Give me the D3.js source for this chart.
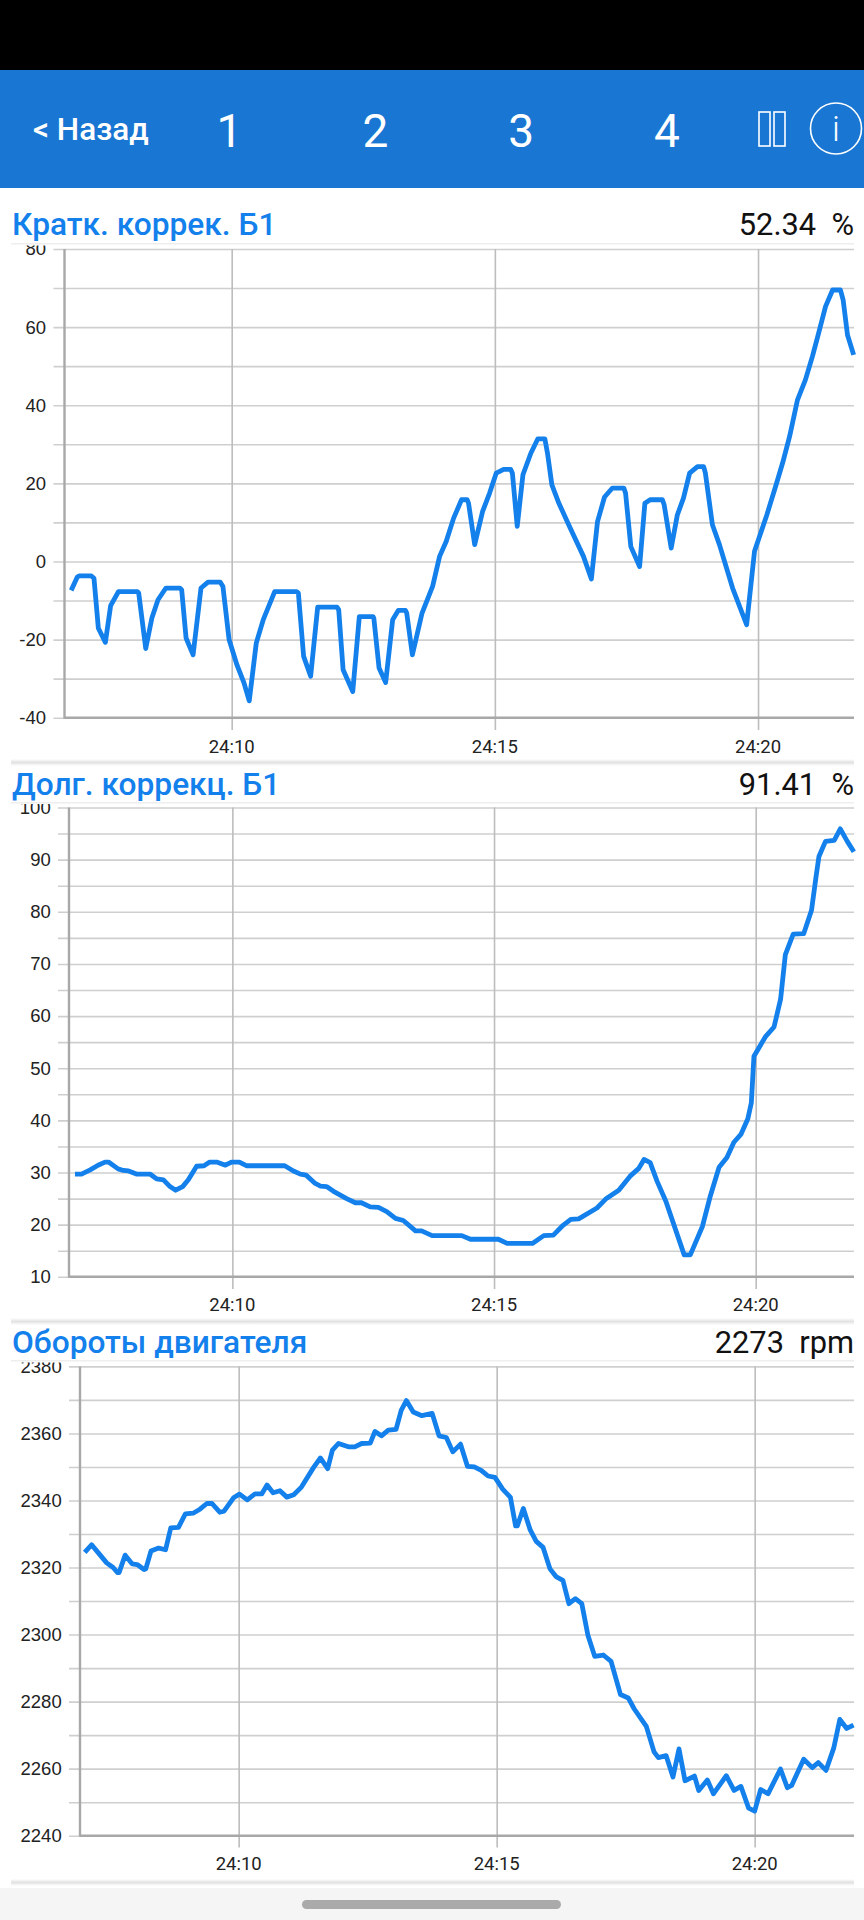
<!DOCTYPE html>
<html>
<head>
<meta charset="utf-8">
<script src="https://cdn.jsdelivr.net/npm/d3@7"></script>
<style>
  html, body { margin: 0; padding: 0; background: #fff; }
  svg { display: block; font-family: Roboto, sans-serif; }
  .grid-y line { stroke: #cfcfcf; stroke-width: 1.6; }
  .grid-x line { stroke: #bdbdbd; stroke-width: 1.6; }
  .axis-label text { font-size: 18.5px; fill: #222; }
  .trace { fill: none; stroke: #1380ec; stroke-width: 4.8; stroke-linejoin: round; }
</style>
</head>
<body>
<svg width="864" height="1920"></svg>
<script>
// seconds after 24:00 on the time axis
const timeTicks = [600, 900, 1200];
const timeLabels = ["24:10", "24:15", "24:20"];
const navLabels = ["1", "2", "3", "4"];

const shortTrimTimes = [417,424,426,440,443,448,456,462,471,492.5,494,502,509,516,525,541,543,548,556,565,573,587,590,597,606,614,620,628,636,649,674,676,682,690,698,720,722,727,738,745.5,761,762,768,775.5,783.5,790,798,799.5,806,817,829,837,844.5,853,862,868.5,870,877,886,894,901.5,910,918,920,925.5,932,941,949,957,960,965,973,986,1001,1010,1017,1025,1034,1047,1049,1055,1065,1071,1077,1091,1093,1101,1108,1115,1122,1131,1138,1140,1148,1156,1171,1187,1196,1210,1220,1228,1236,1245,1254,1262,1269,1277,1285,1294,1297,1302,1309];
const shortTrimValues = [-7.4,-4,-3.7,-3.7,-4.3,-17.1,-20.7,-11.3,-7.7,-7.7,-8.1,-22.3,-14.5,-9.8,-6.8,-6.8,-7.3,-19.6,-23.9,-6.8,-5.3,-5.3,-6.4,-20,-26.5,-31.1,-35.7,-20.9,-14.9,-7.7,-7.7,-8.1,-24.3,-29.4,-11.7,-11.7,-12.4,-27.7,-33.3,-14.1,-14.1,-14.5,-27.3,-31,-14.9,-12.5,-12.5,-13.2,-23.9,-13.2,-6.4,1.3,5.1,11.1,15.8,15.8,14.9,4.3,12.8,17.5,22.6,23.6,23.6,22.6,9,22.2,27.7,31.4,31.4,27.7,19.6,14.9,8.5,1.3,-4.5,10.2,16.5,18.8,18.8,17.5,3.8,-1.3,14.9,15.8,15.8,14.5,3.4,11.9,16.2,22.6,24.3,24.3,22.6,9.4,4.3,-6.8,-16.2,2.6,11.9,19.2,25.2,32,41.4,46.5,52.5,58.4,65.3,69.5,69.5,67,58,52.9];

const longTrimTimes = [419.5,427,437,446,454,458,469,475,481,490,505.5,513,521,528.5,535,543,549.5,559,567.5,574,582,592,599,608,616,660,670,678,684.5,695,701,708,716,731,741,748,758,767.5,777,787,796,810,817,829,863,873,905,915,944,957,968,978,988,997,1018,1028,1043,1056,1066,1072,1079,1087,1097,1118,1125,1139,1148,1158,1167,1175,1183,1191,1195,1198,1211,1221,1228.5,1234,1243,1255,1264,1269,1272.5,1280,1290,1297,1305,1312.5];
const longTrimValues = [29.7,29.7,30.5,31.4,32,32,30.7,30.4,30.3,29.7,29.7,28.8,28.6,27.3,26.6,27.3,28.6,31.2,31.3,32,32,31.4,32,32,31.3,31.3,30.3,29.7,29.5,27.9,27.4,27.3,26.4,25,24.2,24.2,23.4,23.3,22.5,21.2,20.8,18.8,18.8,17.9,17.9,17.2,17.2,16.4,16.4,17.9,18,19.7,21,21.1,23.2,24.9,26.6,29.3,30.8,32.5,31.9,28.3,24.5,14.2,14.2,19.7,25.5,31,32.9,35.8,37.3,40.3,43.4,52.3,56,57.9,63.2,71.8,75.7,75.8,80.3,86.5,90.6,93.5,93.7,95.9,93.5,91.5];

const rpmTimes = [421,429,439,446.5,454,459,461,468,476,482,490,492,498,507,515,521,530,538,547,555,563,569,578,583,594,601,610,619,627,633,640,648,656,664,673,687,695,703.5,709,716,727.5,735,743,753,758.5,766,774,783,789,795,803,813,825,833,841.5,849,858,866,874,882,890,898,907,916,922,924,931,939,946,954,962,969,977,984,991.5,999,1006,1014,1024,1033,1044,1053,1060,1074,1083,1088,1097,1105,1112,1119,1130,1135,1145,1152,1167,1176,1184,1193,1200,1207,1215.5,1230,1238,1243,1257,1267,1274,1283,1292,1299,1307,1315];
const rpmValues = [2324.5,2326.8,2323.7,2321.4,2320,2318.5,2318.5,2323.7,2321.1,2320.9,2319.4,2319.6,2324.9,2325.8,2325.3,2331.8,2332,2336,2336.2,2337.4,2339.1,2339.1,2336.5,2336.8,2340.8,2341.9,2340.2,2342,2342,2344.6,2342.3,2342.9,2341,2341.7,2344,2349.8,2352.7,2349.5,2355,2357,2356,2356,2357,2357.1,2360.6,2359.3,2361,2361.2,2366.9,2369.8,2366.4,2365.3,2366,2359.3,2358.8,2354.5,2356.8,2350.2,2350,2349,2347.3,2346.9,2343.4,2340.9,2332.4,2332.4,2337.6,2331.2,2327.8,2326,2319.6,2317.3,2316.2,2309.2,2310.7,2309.2,2299.9,2293.5,2293.9,2292,2282.1,2281.1,2277.8,2272.6,2265,2263.3,2263.9,2257.5,2265.9,2256.4,2257.8,2253.5,2256.6,2252.5,2257.9,2253.5,2254.7,2248.2,2247.3,2253.8,2252.5,2259.9,2254.3,2255,2262.8,2260.3,2261.8,2259.5,2266.2,2274.7,2272,2273];

const shortTrimTicks = d3.range(-40, 81, 10);
const longTrimTicks = d3.range(10, 101, 5);
const rpmTicks = d3.range(2240, 2381, 10);

const panels = [
  { title: "Кратк. коррек. Б1", reading: "52.34\u00a0\u00a0%", times: shortTrimTimes, values: shortTrimValues,
    ticks: shortTrimTicks, labelStep: 20, yDomain: [-40, 80], xDomain: [409.4, 1309.4],
    left: 64.5, top: 249, bottom: 717.7, labelRight: 46, baseline: 235, rule: 244, clipTop: 245.5, tickEnd: 730, timeY: 753, shadow: 762 },
  { title: "Долг. коррекц. Б1", reading: "91.41\u00a0\u00a0%", times: longTrimTimes, values: longTrimValues,
    ticks: longTrimTicks, labelStep: 10, yDomain: [10, 100], xDomain: [412.7, 1312.7],
    left: 69, top: 807.5, bottom: 1276.8, labelRight: 50.7, baseline: 794.5, rule: 803, clipTop: 804, tickEnd: 1289, timeY: 1311, shadow: 1321 },
  { title: "Обороты двигателя", reading: "2273\u00a0\u00a0rpm", times: rpmTimes, values: rpmValues,
    ticks: rpmTicks, labelStep: 20, yDomain: [2240, 2380], xDomain: [415.5, 1315.5],
    left: 80, top: 1366.4, bottom: 1835.7, labelRight: 61.7, baseline: 1353, rule: 1361, clipTop: 1362.5, tickEnd: 1847.5, timeY: 1870, shadow: 1882 }
];

const svg = d3.select("svg");
const right = 854;

// shadow under each section
const defs = svg.append("defs");
const fade = defs.append("linearGradient").attr("id", "fade").attr("x1", 0).attr("x2", 0).attr("y1", 0).attr("y2", 1);
fade.append("stop").attr("offset", 0).attr("stop-color", "#fff");
fade.append("stop").attr("offset", 0.5).attr("stop-color", "#e2e2e2");
fade.append("stop").attr("offset", 1).attr("stop-color", "#fff");

// status bar and header
svg.append("rect").attr("width", 864).attr("height", 70).attr("fill", "#000");
svg.append("rect").attr("y", 70).attr("width", 864).attr("height", 118).attr("fill", "#1976d2");
svg.append("text").attr("x", 33).attr("y", 140).attr("fill", "#fff")
  .style("font-size", "31.5px").style("font-weight", 500).text("< Назад");

const navScale = d3.scalePoint().domain(navLabels).range([229.5, 667]);
svg.selectAll(".nav").data(navLabels).join("text")
  .attr("class", "nav")
  .attr("x", d => navScale(d)).attr("y", 146.5)
  .attr("text-anchor", "middle").attr("fill", "#fff")
  .style("font-size", "46px").style("font-weight", 400)
  .text(d => d);

// pause and info icons
svg.selectAll(".pause").data([759, 774]).join("rect")
  .attr("class", "pause")
  .attr("x", d => d).attr("y", 112).attr("width", 11).attr("height", 34)
  .attr("fill", "none").attr("stroke", "#fff").attr("stroke-width", 1.6);
svg.append("circle").attr("cx", 836).attr("cy", 128.5).attr("r", 25.5)
  .attr("fill", "none").attr("stroke", "#fff").attr("stroke-width", 1.6);
svg.append("text").attr("x", 836).attr("y", 141).attr("text-anchor", "middle")
  .attr("fill", "#fff").style("font-size", "35px").style("font-weight", 300).text("i");

panels.forEach((p, i) => {
  const x = d3.scaleLinear().domain(p.xDomain).range([p.left, right]);
  const y = d3.scaleLinear().domain(p.yDomain).range([p.bottom, p.top]);

  svg.append("text").attr("x", 12).attr("y", p.baseline)
    .attr("fill", "#1380ec").style("font-size", "31.7px").style("font-weight", 500).text(p.title);
  svg.append("text").attr("x", right).attr("y", p.baseline).attr("text-anchor", "end")
    .attr("fill", "#111").style("font-size", "30.8px").text(p.reading);
  svg.append("rect").attr("x", 11).attr("y", p.rule - 1).attr("width", right - 11).attr("height", 1.5).attr("fill", "#eeeeee");

  // horizontal grid and value labels, top label is cut by the section edge
  defs.append("clipPath").attr("id", `clip-${i}`).append("rect")
    .attr("x", 0).attr("y", p.clipTop).attr("width", 864).attr("height", 1920 - p.clipTop);
  const yAxis = d3.axisLeft(y)
    .tickValues(p.ticks)
    .tickSize(0)
    .tickPadding(p.left - p.labelRight)
    .tickFormat(d => (d - p.yDomain[0]) % p.labelStep === 0 ? d : "");
  const labels = svg.append("g").attr("clip-path", `url(#clip-${i})`)
    .append("g").attr("class", "axis-label")
    .attr("transform", `translate(${p.left},0)`)
    .call(yAxis);
  labels.select(".domain").remove();

  const gridY = svg.append("g").attr("class", "grid-y")
    .attr("transform", `translate(${p.left - 11},0)`)
    .call(d3.axisRight(y).tickValues(p.ticks).tickSize(right - p.left + 11).tickFormat(""));
  gridY.select(".domain").remove();

  // vertical grid runs past the axis as a tick
  const gridX = svg.append("g").attr("class", "grid-x")
    .attr("transform", `translate(0,${p.tickEnd})`)
    .call(d3.axisTop(x).tickValues(timeTicks).tickSize(p.tickEnd - p.top).tickFormat(""));
  gridX.select(".domain").remove();

  // axis frame
  svg.append("line").attr("x1", p.left).attr("x2", p.left).attr("y1", p.top).attr("y2", p.bottom + 1)
    .attr("stroke", "#a8a8a8").attr("stroke-width", 2.4);
  svg.append("line").attr("x1", p.left).attr("x2", right).attr("y1", p.bottom).attr("y2", p.bottom)
    .attr("stroke", "#a8a8a8").attr("stroke-width", 2.6);

  svg.append("g").selectAll("text").data(timeTicks).join("text")
    .attr("x", d => x(d)).attr("y", p.timeY).attr("text-anchor", "middle")
    .attr("fill", "#222").style("font-size", "18.5px")
    .text((d, k) => timeLabels[k]);

  const line = d3.line().x(d => x(d[0])).y(d => y(d[1]));
  svg.append("path").attr("class", "trace")
    .datum(d3.zip(p.times, p.values))
    .attr("d", line);

  svg.append("rect").attr("x", 11).attr("y", p.shadow - 3).attr("width", right - 11).attr("height", 7).attr("fill", "url(#fade)");
});

// navigation bar at the bottom
svg.append("rect").attr("y", 1888).attr("width", 864).attr("height", 32).attr("fill", "#f5f5f5");
svg.append("rect").attr("x", 302).attr("y", 1900).attr("width", 259).attr("height", 9).attr("rx", 4.5).attr("fill", "#aaaaaa");
</script>
</body>
</html>
